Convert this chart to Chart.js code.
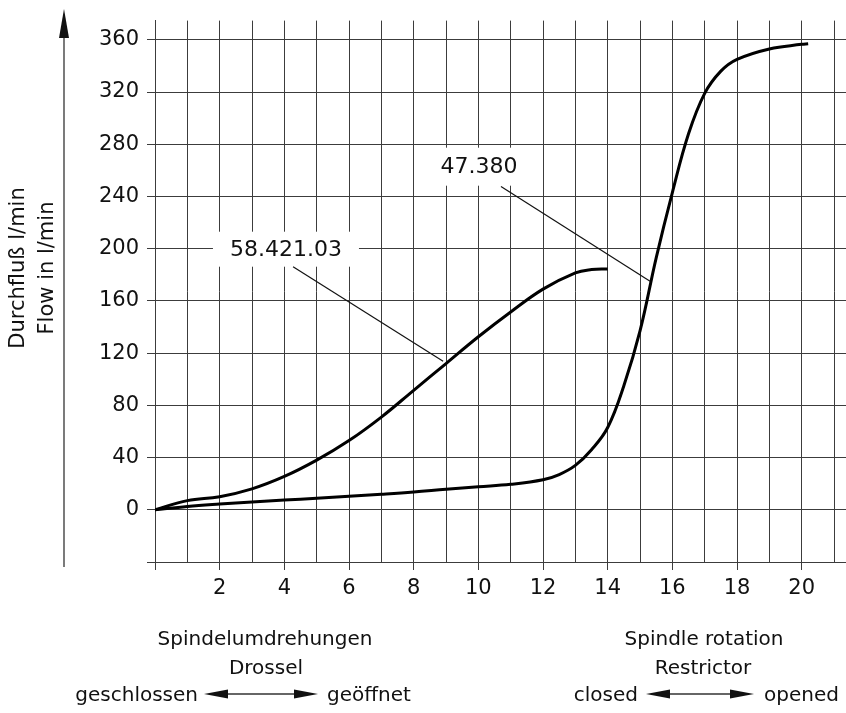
<!DOCTYPE html>
<html>
<head>
<meta charset="utf-8">
<script src="https://cdn.jsdelivr.net/npm/chart.js@4/dist/chart.umd.min.js"></script>
<style>
  html, body { margin: 0; padding: 0; background: #fff; }
</style>
</head>
<body>
<canvas id="flowChart" width="846" height="713"></canvas>
<script>
const FONT = "'DejaVu Sans', sans-serif";
const INK = "#111";
const GRID = "#3c3c3c";

// throttle 58.421.03 : spindle turns -> flow l/min
const throttleTurns = [0, 1, 2, 3, 4, 5, 6, 7, 8, 9, 10, 11, 12, 13, 13.5, 14];
const throttleFlow  = [0, 7, 10, 16, 25.5, 38, 53, 71, 91.5, 112, 132.5, 151.5, 169, 181.5, 184, 184.5];

// restrictor 47.380
const restrictorTurns = [0, 1, 2, 3, 4, 5, 6, 7, 8, 9, 10, 11, 12, 12.5, 13, 13.5, 14, 14.5, 15, 15.5, 16, 16.5, 17, 17.5, 18, 19, 20, 20.2];
const restrictorFlow  = [0, 2.6, 4.4, 5.9, 7.4, 8.9, 10.4, 11.9, 13.6, 15.7, 17.6, 19.5, 23, 27, 34, 46, 63, 95, 137, 193, 243, 288, 319, 336, 345, 353, 356.5, 357];

// axes
const xGridSteps  = [0, 1, 2, 3, 4, 5, 6, 7, 8, 9, 10, 11, 12, 13, 14, 15, 16, 17, 18, 19, 20, 21];
const xTickLabels = [2, 4, 6, 8, 10, 12, 14, 16, 18, 20];
const yGridSteps  = [-40, 0, 40, 80, 120, 160, 200, 240, 280, 320, 360];
const yTickLabels = [0, 40, 80, 120, 160, 200, 240, 280, 320, 360];

function toPoints(xs, ys) {
  return xs.map((x, i) => ({ x: x, y: ys[i] }));
}

// label boxes with a leader line onto their curve (data coords)
const callouts = [
  { text: "58.421.03", box: [4.05, 199.6, 146, 35], from: [4.27, 186.2], to: [8.91, 113.8] },
  { text: "47.380",    box: [10.02, 262.8, 102, 38], from: [10.7, 247.6], to: [15.31, 175] }
];

function arrowHead(ctx, tipX, tipY, dx, dy, len, half) {
  // dx,dy = unit direction the arrow points
  const bx = tipX - dx * len, by = tipY - dy * len;
  ctx.beginPath();
  ctx.moveTo(tipX, tipY);
  ctx.lineTo(bx - dy * half, by + dx * half);
  ctx.lineTo(bx + dy * half, by - dx * half);
  ctx.closePath();
  ctx.fill();
}

function doubleArrow(ctx, x1, x2, y) {
  ctx.beginPath();
  ctx.moveTo(x1 + 10, y);
  ctx.lineTo(x2 - 10, y);
  ctx.stroke();
  arrowHead(ctx, x1, y, -1, 0, 24, 4.5);
  arrowHead(ctx, x2, y, 1, 0, 24, 4.5);
}

const extras = {
  id: "extras",
  afterDraw(chart) {
    const ctx = chart.ctx;
    const xs = chart.scales.x, ys = chart.scales.y;
    ctx.save();
    ctx.fillStyle = INK;
    ctx.strokeStyle = INK;

    // callouts
    callouts.forEach(c => {
      const cx = xs.getPixelForValue(c.box[0]);
      const cy = ys.getPixelForValue(c.box[1]);
      const w = c.box[2], h = c.box[3];
      ctx.fillStyle = "#fff";
      ctx.fillRect(cx - w / 2, cy - h / 2, w, h);
      ctx.fillStyle = INK;
      ctx.font = "22px " + FONT;
      ctx.textAlign = "center";
      ctx.textBaseline = "middle";
      ctx.fillText(c.text, cx, cy + 1);
      ctx.lineWidth = 1.2;
      ctx.beginPath();
      ctx.moveTo(xs.getPixelForValue(c.from[0]), ys.getPixelForValue(c.from[1]));
      ctx.lineTo(xs.getPixelForValue(c.to[0]), ys.getPixelForValue(c.to[1]));
      ctx.stroke();
    });

    // y axis arrow
    ctx.lineWidth = 1.3;
    ctx.strokeStyle = "#333";
    ctx.beginPath();
    ctx.moveTo(64, 30);
    ctx.lineTo(64, 567);
    ctx.stroke();
    ctx.fillStyle = INK;
    arrowHead(ctx, 64, 9, 0, -1, 29, 5);

    // y axis title
    ctx.save();
    ctx.translate(0, 268);
    ctx.rotate(-Math.PI / 2);
    ctx.font = "21px " + FONT;
    ctx.textAlign = "center";
    ctx.textBaseline = "middle";
    ctx.fillText("Durchfluß l/min", 0, 19);
    ctx.fillText("Flow in l/min", 0, 48);
    ctx.restore();

    // bottom captions
    ctx.font = "20px " + FONT;
    ctx.textBaseline = "alphabetic";
    ctx.textAlign = "center";
    ctx.fillText("Spindelumdrehungen", 265, 645);
    ctx.fillText("Drossel", 266, 674);
    ctx.fillText("Spindle rotation", 704, 645);
    ctx.fillText("Restrictor", 703, 674);

    ctx.textAlign = "right";
    ctx.fillText("geschlossen", 198, 701);
    ctx.fillText("closed", 638, 701);
    ctx.textAlign = "left";
    ctx.fillText("geöffnet", 327, 701);
    ctx.fillText("opened", 764, 701);

    ctx.lineWidth = 1.3;
    doubleArrow(ctx, 204, 318, 694);
    doubleArrow(ctx, 646, 754, 694);
    ctx.restore();
  }
};

new Chart(document.getElementById("flowChart"), {
  type: "line",
  data: {
    datasets: [
      {
        label: "58.421.03",
        data: toPoints(throttleTurns, throttleFlow),
        borderColor: "#000",
        borderWidth: 3,
        pointRadius: 0,
        fill: false,
        tension: 0.4
      },
      {
        label: "47.380",
        data: toPoints(restrictorTurns, restrictorFlow),
        borderColor: "#000",
        borderWidth: 3,
        pointRadius: 0,
        fill: false,
        tension: 0.4
      }
    ]
  },
  options: {
    responsive: false,
    devicePixelRatio: 1,
    animation: false,
    layout: { padding: { top: 13, left: 0, right: 0, bottom: 0 } },
    plugins: {
      legend: { display: false },
      tooltip: { enabled: false }
    },
    scales: {
      x: {
        type: "linear",
        min: 0,
        max: 21.37,
        afterBuildTicks: axis => { axis.ticks = xGridSteps.map(v => ({ value: v })); },
        afterFit: axis => { axis.height = 151; },
        grid: {
          color: GRID,
          lineWidth: 1,
          tickLength: 8,
          tickColor: c => (c.tick && c.tick.value % 2 === 0) ? GRID : "rgba(0,0,0,0)"
        },
        border: { display: true, color: GRID },
        ticks: {
          autoSkip: false,
          maxRotation: 0,
          padding: 6,
          color: INK,
          font: { family: FONT, size: 21 },
          callback: v => xTickLabels.includes(v) ? String(v) : ""
        }
      },
      y: {
        min: -40,
        max: 374.7,
        afterBuildTicks: axis => { axis.ticks = yGridSteps.map(v => ({ value: v })); },
        afterFit: axis => { axis.width = 155; },
        grid: { color: GRID, lineWidth: 1, tickLength: 8, tickColor: GRID },
        border: { display: true, color: GRID },
        ticks: {
          padding: 8,
          color: INK,
          font: { family: FONT, size: 21 },
          callback: v => yTickLabels.includes(v) ? String(v) : ""
        }
      }
    }
  },
  plugins: [extras]
});
</script>
</body>
</html>
